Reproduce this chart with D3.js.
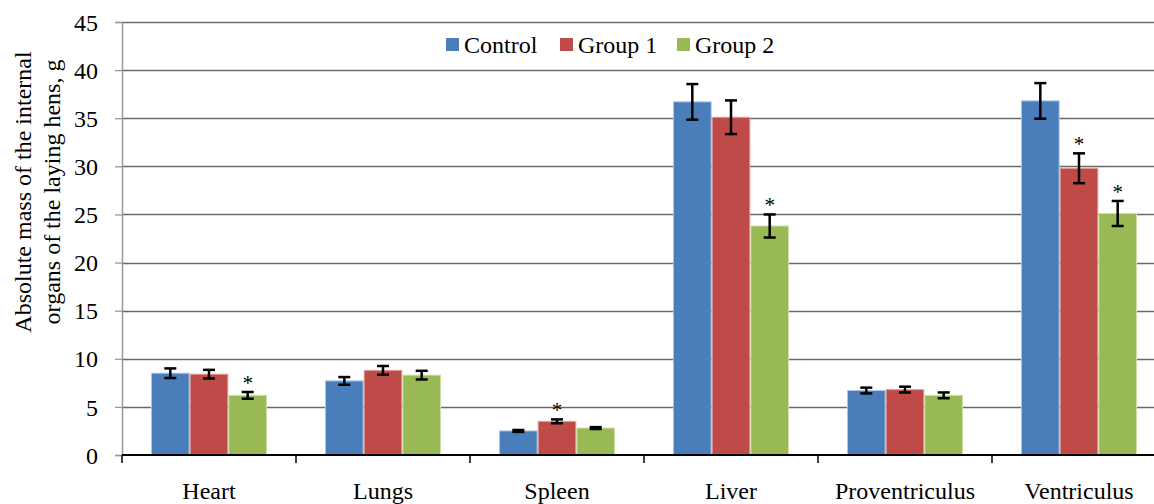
<!DOCTYPE html>
<html>
<head>
<meta charset="utf-8">
<script src="https://cdn.jsdelivr.net/npm/d3@7/dist/d3.min.js"></script>
<style>
  body { margin: 0; background: #fff; }
  svg text { font-family: "Liberation Serif", "Times New Roman", serif !important; }
</style>
</head>
<body>
<div id="chart"></div>
<script>
// data
const organs = ["Heart", "Lungs", "Spleen", "Liver", "Proventriculus", "Ventriculus"];
const groups = ["Control", "Group 1", "Group 2"];
const controlMean = [8.5, 7.7, 2.5, 36.7, 6.7, 36.8];
const controlErr  = [0.5, 0.4, 0.1, 1.85, 0.3, 1.85];
const group1Mean  = [8.4, 8.8, 3.5, 35.1, 6.8, 29.8];
const group1Err   = [0.45, 0.45, 0.2, 1.75, 0.3, 1.55];
const group2Mean  = [6.2, 8.3, 2.8, 23.8, 6.2, 25.1];
const group2Err   = [0.35, 0.45, 0.1, 1.2, 0.3, 1.3];
// significance marks (*)
const control_sig = [false, false, false, false, false, false];
const group1Sig   = [false, false, true, false, false, true];
const group2Sig   = [true, false, false, true, false, true];
const yTicks = [0, 5, 10, 15, 20, 25, 30, 35, 40, 45];

const colors = ["#4a7ebb", "#be4b48", "#98b954"];
const edges  = ["#a9c4e6", "#e2a3a1", "#cfe0a8"];

const WIDTH = 1154, HEIGHT = 504;
const margins = { top: 22, left: 122, bottom: 49, right: -12 };
const width = WIDTH - margins.left - margins.right,
    height = HEIGHT - margins.top - margins.bottom;

const means = [controlMean, group1Mean, group2Mean];
const errs = [controlErr, group1Err, group2Err];
const sigs = [control_sig, group1Sig, group2Sig];

const data = [];
organs.forEach((organ, i) => {
    groups.forEach((g, j) => {
        data.push({ organ: organ, group: g, gi: j, value: means[j][i], err: errs[j][i], sig: sigs[j][i] });
    });
});

const svg = d3.select("#chart")
    .append("svg")
    .attr("width", WIDTH)
    .attr("height", HEIGHT);

const x = d3.scaleBand().domain(organs).range([0, width]);
const groupWidth = x.bandwidth() * 0.667;
const xg = d3.scaleBand().domain(groups).range([0, groupWidth]);
const y = d3.scaleLinear().domain([0, 45]).range([height, 0]);

const plot = svg.append("g")
    .attr("transform", `translate(${margins.left}, ${margins.top})`);

// gridlines
plot.append("g")
    .selectAll("line")
    .data(yTicks.filter(d => d > 0))
    .join("line")
    .attr("x1", 0)
    .attr("x2", width)
    .attr("y1", d => Math.round(y(d)) + 0.5)
    .attr("y2", d => Math.round(y(d)) + 0.5)
    .attr("stroke", "#6a6a6a")
    .attr("stroke-width", 1.3);

// y axis
const yAxis = plot.append("g")
    .call(d3.axisLeft(y).tickValues(yTicks).tickSize(7).tickPadding(17));
yAxis.select(".domain").attr("stroke", "#999").attr("stroke-width", 1.5);
yAxis.selectAll(".tick line").attr("stroke", "#999").attr("stroke-width", 1.3);
yAxis.selectAll(".tick text")
    .attr("font-size", 24)
    .attr("dy", "0.34em")
    .attr("fill", "#000");

// bars
const bars = plot.append("g")
    .selectAll("g")
    .data(data)
    .join("g")
    .attr("transform", d => `translate(${x(d.organ) + (x.bandwidth() - groupWidth) / 2 + xg(d.group)}, 0)`);

bars.append("rect")
    .attr("x", 0.5)
    .attr("y", d => y(d.value))
    .attr("width", xg.bandwidth() - 1)
    .attr("height", d => y(0) - y(d.value))
    .attr("fill", d => colors[d.gi])
    .attr("stroke", d => edges[d.gi])
    .attr("stroke-width", 1);

// error bars
const cx = xg.bandwidth() / 2;
bars.append("line")
    .attr("x1", cx).attr("x2", cx)
    .attr("y1", d => y(d.value + d.err))
    .attr("y2", d => y(d.value - d.err))
    .attr("stroke", "#000").attr("stroke-width", 2.5);
bars.selectAll(".cap")
    .data(d => [d.value + d.err, d.value - d.err])
    .join("line")
    .attr("class", "cap")
    .attr("x1", cx - 6).attr("x2", cx + 6)
    .attr("y1", v => y(v)).attr("y2", v => y(v))
    .attr("stroke", "#000").attr("stroke-width", 2.5);

bars.filter(d => d.sig)
    .append("text")
    .attr("x", cx)
    .attr("y", d => y(d.value + d.err) - 2)
    .attr("text-anchor", "middle")
    .attr("font-size", 21)
    .attr("fill", "#000")
    .text("*");

// x axis
const xAxis = plot.append("g")
    .attr("transform", `translate(0, ${height})`);
xAxis.append("line")
    .attr("x1", 0).attr("x2", width)
    .attr("y1", 0).attr("y2", 0)
    .attr("stroke", "#000").attr("stroke-width", 2);
xAxis.selectAll(".sep")
    .data(organs.map(o => x(o)).concat([width]))
    .join("line")
    .attr("class", "sep")
    .attr("x1", d => d).attr("x2", d => d)
    .attr("y1", 0).attr("y2", 8)
    .attr("stroke", "#000").attr("stroke-width", 1.5);
xAxis.selectAll(".lbl")
    .data(organs)
    .join("text")
    .attr("class", "lbl")
    .attr("x", d => x(d) + x.bandwidth() / 2)
    .attr("y", 44)
    .attr("text-anchor", "middle")
    .attr("font-size", 24)
    .attr("fill", "#000")
    .text(d => d);

// y axis title
const title = svg.append("text")
    .attr("transform", `translate(31, 192) rotate(-90)`)
    .attr("text-anchor", "middle")
    .attr("font-size", 24)
    .attr("fill", "#000");
title.append("tspan").attr("x", 0).attr("dy", 0).text("Absolute mass of the internal");
title.append("tspan").attr("x", 0).attr("dy", 29).text("organs of the laying hens, g");

// legend
const legendX = [446, 560, 677];
const legend = svg.append("g")
    .selectAll("g")
    .data(groups)
    .join("g")
    .attr("transform", (d, i) => `translate(${legendX[i]}, 38)`);
legend.append("rect")
    .attr("width", 13).attr("height", 13)
    .attr("fill", (d, i) => colors[i]);
legend.append("text")
    .attr("x", 18)
    .attr("y", 15)
    .attr("font-size", 24)
    .attr("fill", "#000")
    .text(d => d);
</script>
</body>
</html>
